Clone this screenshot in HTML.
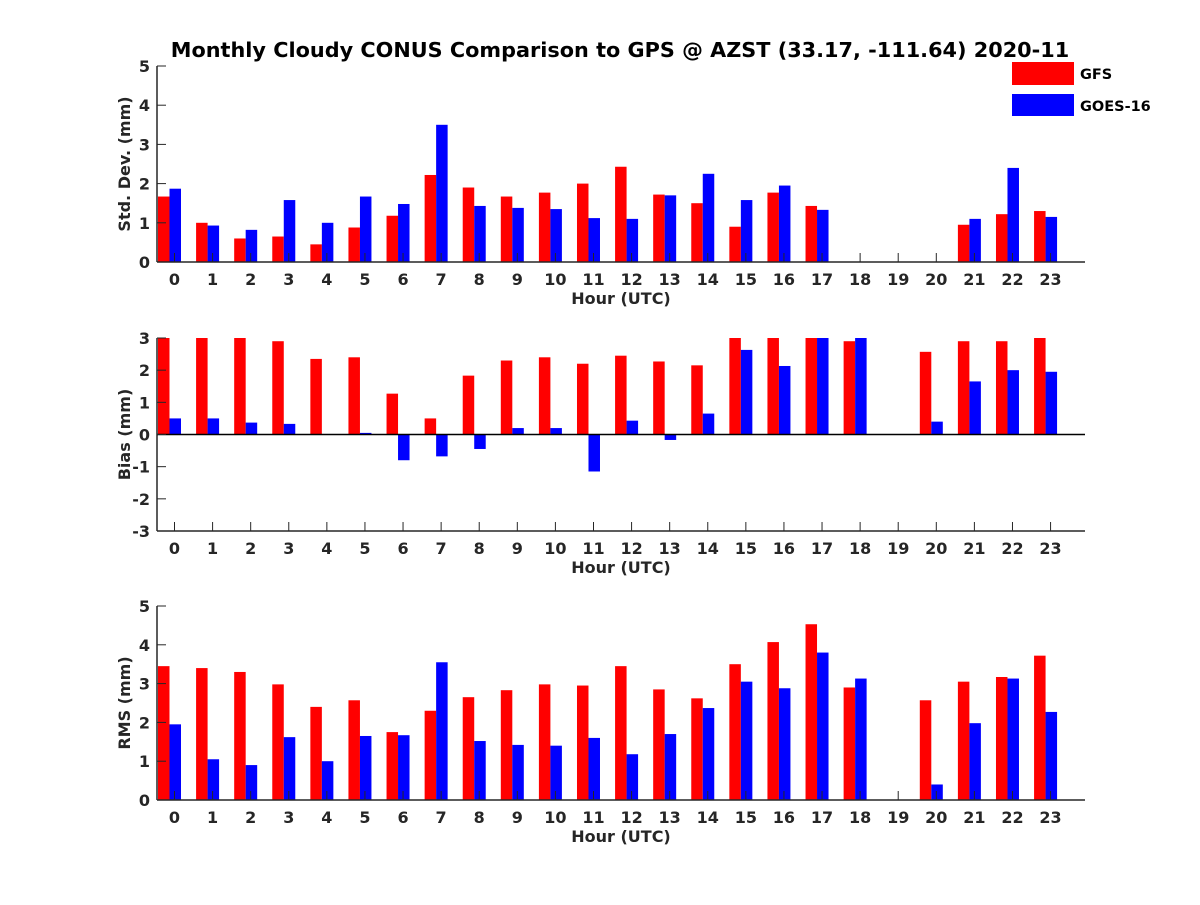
<!DOCTYPE html>
<html><head><meta charset="utf-8"><style>
body{margin:0;background:#fff}
text{font-family:"DejaVu Sans","Liberation Sans",sans-serif;font-weight:bold;fill:#262626}
</style></head><body>
<svg id="chart" width="1200" height="900" xmlns="http://www.w3.org/2000/svg">
<text x="620" y="57" font-size="20.8" text-anchor="middle" style="fill:#000">Monthly Cloudy CONUS Comparison to GPS @ AZST (33.17, -111.64) 2020-11</text>
<g>
<rect x="1012" y="62" width="62" height="23" fill="#ff0000"/>
<text x="1080" y="79" font-size="14.5" style="fill:#000">GFS</text>
<rect x="1012" y="94" width="62" height="22" fill="#0000ff"/>
<text x="1080" y="111" font-size="14.5" style="fill:#000">GOES-16</text>
</g>
</svg>
<script>
const hours=[0,1,2,3,4,5,6,7,8,9,10,11,12,13,14,15,16,17,18,19,20,21,22,23];
const stdGfs=[1.67,1.0,0.6,0.65,0.45,0.88,1.18,2.22,1.9,1.67,1.77,2.0,2.43,1.72,1.5,0.9,1.77,1.43,null,null,null,0.95,1.22,1.3];
const stdGoes=[1.87,0.93,0.82,1.58,1.0,1.67,1.48,3.5,1.43,1.38,1.35,1.12,1.1,1.7,2.25,1.58,1.95,1.33,null,null,null,1.1,2.4,1.15];
const biasGfs=[3,3,3,2.9,2.35,2.4,1.27,0.5,1.83,2.3,2.4,2.2,2.45,2.27,2.15,3,3,3,2.9,null,2.57,2.9,2.9,3];
const biasGoes=[0.5,0.5,0.37,0.33,0,0.05,-0.8,-0.68,-0.45,0.2,0.2,-1.15,0.43,-0.17,0.65,2.63,2.13,3,3,null,0.4,1.65,2.0,1.95];
const rmsGfs=[3.45,3.4,3.3,2.98,2.4,2.57,1.75,2.3,2.65,2.83,2.98,2.95,3.45,2.85,2.62,3.5,4.07,4.53,2.9,null,2.57,3.05,3.17,3.72];
const rmsGoes=[1.95,1.05,0.9,1.62,1.0,1.65,1.67,3.55,1.52,1.42,1.4,1.6,1.18,1.7,2.37,3.05,2.88,3.8,3.13,null,0.4,1.98,3.13,2.27];
const stdTicks=[0,1,2,3,4,5];
const biasTicks=[-3,-2,-1,0,1,2,3];
const rmsTicks=[0,1,2,3,4,5];

const NS='http://www.w3.org/2000/svg';
const svg=document.getElementById('chart');
const X0=157,X1=1085;
const xs=v=>174.5+v*38.09;    // tick positions
const xb=v=>169.5+v*38.09;    // bar group centres
const BW=11.5;
const FS=16;
function mk(tag,attrs,parent){const e=document.createElementNS(NS,tag);for(const k in attrs)e.setAttribute(k,attrs[k]);(parent||svg).appendChild(e);return e;}
function panel(name,top,bot,ymin,ymax,ticks,gfs,goes,ylabel){
  const g=mk('g',{});
  
  
  const ys=v=>bot-(v-ymin)/(ymax-ymin)*(bot-top);
  hours.forEach((h,i)=>{
    [[gfs[i],-BW,'#ff0000','gfs'],[goes[i],0,'#0000ff','goes']].forEach(([v,off,c,s])=>{
      if(v===null)return;
      const y0=ys(0),y1=ys(v);
      const r=mk('rect',{x:xb(h)+off,y:Math.min(y0,y1),width:BW,height:Math.abs(y1-y0),fill:c},g);
      
      
    });
  });
  const ax='#262626';
  mk('line',{x1:X0,y1:bot,x2:X1,y2:bot,stroke:ax,'stroke-width':1.5},g);
  mk('line',{x1:X0,y1:top,x2:X0,y2:bot,stroke:ax,'stroke-width':1.5},g);
  if(ymin<0) mk('line',{x1:X0,y1:ys(0),x2:X1,y2:ys(0),stroke:'#000','stroke-width':1.5},g);
  hours.forEach(h=>{
    mk('line',{x1:xs(h),y1:bot,x2:xs(h),y2:bot-9,stroke:ax,'stroke-width':1},g);
    const t=mk('text',{x:xs(h),y:bot+23,'font-size':FS,'text-anchor':'middle'},g);t.textContent=h;
    
    
  });
  ticks.forEach(v=>{
    mk('line',{x1:X0,y1:ys(v),x2:X0+9,y2:ys(v),stroke:ax,'stroke-width':1},g);
    const t=mk('text',{x:X0-7,y:ys(v)+6,'font-size':FS,'text-anchor':'end'},g);t.textContent=v;
    
    
  });
  const xl=mk('text',{x:621,y:bot+42,'font-size':FS,'text-anchor':'middle'},g);xl.textContent='Hour (UTC)';
  
  
  const cy=(top+bot)/2;
  const yl=mk('text',{x:130,y:cy,'font-size':FS,'text-anchor':'middle',transform:'rotate(-90 130 '+cy+')'},g);yl.textContent=ylabel;
  
  
}
panel('std',66,262,0,5,stdTicks,stdGfs,stdGoes,'Std. Dev. (mm)');
panel('bias',338,531,-3,3,biasTicks,biasGfs,biasGoes,'Bias (mm)');
panel('rms',606,800,0,5,rmsTicks,rmsGfs,rmsGoes,'RMS (mm)');
</script>
</body></html>
